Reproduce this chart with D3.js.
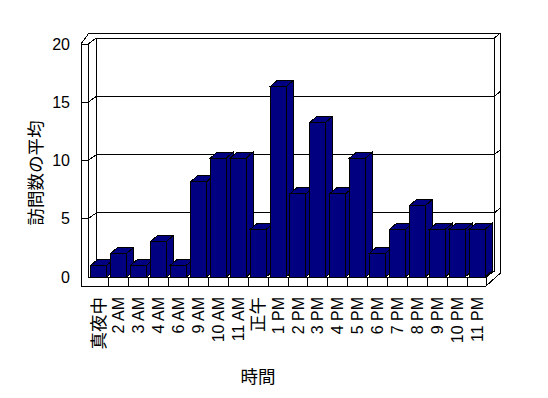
<!DOCTYPE html>
<html>
<head>
<meta charset="utf-8">
<script src="https://cdn.jsdelivr.net/npm/d3@7"></script>
<style>
  body { margin: 0; background: #fff; }
  text { font-family: "Liberation Sans", "Noto Sans CJK JP", sans-serif; fill: #000; }
  .cjk { font-family: "Noto Sans CJK JP", sans-serif; }
</style>
</head>
<body>
<svg width="548" height="398"></svg>
<script>
// data
var hours = ["真夜中", "2 AM", "3 AM", "4 AM", "6 AM", "9 AM", "10 AM", "11 AM", "正午",
             "1 PM", "2 PM", "3 PM", "4 PM", "5 PM", "6 PM", "7 PM", "8 PM", "9 PM", "10 PM", "11 PM"];
var visits = [1, 2, 1, 3, 1, 8, 10, 10, 4, 16, 7, 13, 7, 10, 2, 4, 6, 4, 4, 4];
var yTicks = [0, 5, 10, 15, 20];
var xTitle = "時間",
    yTitle = "訪問数の平均";

var svg = d3.select("svg");

// frame geometry (front plane, depth offset, wall thickness)
var front = {left: 88, right: 486, base: 277, bottom: 286, outer: 81},
    depth = {x: 8.5, y: -6},
    thick = {x: 6, y: -5},
    barDepth = {x: 7, y: -6};

var x = d3.scaleBand().domain(hours).range([89, 487]).paddingInner(0.2).paddingOuter(0.1),
    yBack = d3.scaleLinear().domain([0, 20]).range([271, 38]),
    yBar = d3.scaleLinear().domain([0, 20]).range([front.base, 39]);

var backL = front.left + depth.x,
    backR = front.right + depth.x,
    wallTop = yBack(20);

var frame = svg.append("g")
    .attr("fill", "none")
    .attr("stroke", "#000")
    .attr("stroke-width", 1)
    .attr("shape-rendering", "crispEdges");

// back wall + gridlines
frame.append("rect")
    .attr("x", backL).attr("y", wallTop)
    .attr("width", backR - backL).attr("height", yBack(0) - wallTop)
    .attr("fill", "#fff");

yTicks.slice(1, 4).forEach(function(v) {
  frame.append("line")
      .attr("x1", backL).attr("x2", backR)
      .attr("y1", yBack(v)).attr("y2", yBack(v));
  // left wall inner face
  frame.append("line")
      .attr("x1", front.left).attr("y1", yBack(v) - depth.y)
      .attr("x2", backL).attr("y2", yBack(v));
  // left wall front face
  frame.append("line")
      .attr("x1", front.outer).attr("y1", yBack(v) - depth.y)
      .attr("x2", front.left).attr("y2", yBack(v) - depth.y);
  // back wall right face
  frame.append("line")
      .attr("x1", backR).attr("y1", yBack(v))
      .attr("x2", backR + thick.x).attr("y2", yBack(v) + thick.y);
});

// outer outline of the walls
frame.append("path")
    .attr("d", d3.line()([
      [front.outer, front.bottom],
      [front.outer, wallTop - depth.y],
      [front.outer + 8, wallTop + thick.y],
      [backR + thick.x, wallTop + thick.y],
      [backR + thick.x, yBack(0) + 2],
      [front.right, front.bottom]
    ]));

// left wall top and inner edges
frame.append("path")
    .attr("d", d3.line()([
      [front.outer, wallTop - depth.y],
      [front.left, wallTop - depth.y],
      [backL, wallTop]
    ]));
frame.append("line")
    .attr("x1", front.left).attr("y1", wallTop - depth.y)
    .attr("x2", front.left).attr("y2", front.base);
frame.append("line")
    .attr("x1", backR).attr("y1", wallTop)
    .attr("x2", backR + thick.x).attr("y2", wallTop + thick.y);

// floor front face
frame.append("line")
    .attr("x1", front.left).attr("x2", front.right)
    .attr("y1", front.base).attr("y2", front.base);
frame.append("line")
    .attr("x1", front.outer).attr("x2", front.right)
    .attr("y1", front.bottom).attr("y2", front.bottom);
frame.append("line")
    .attr("x1", front.right).attr("x2", front.right)
    .attr("y1", front.base).attr("y2", front.bottom);
frame.append("line")
    .attr("x1", front.right).attr("y1", front.base)
    .attr("x2", backR).attr("y2", yBack(0));

// category ticks on the floor edge
hours.slice(1).forEach(function(h) {
  var bx = x(h) - x.step() * x.paddingInner() / 2;
  frame.append("line")
      .attr("x1", bx).attr("x2", bx)
      .attr("y1", front.base).attr("y2", front.bottom);
});

// bars
var bw = x.bandwidth();
var bars = svg.append("g")
    .attr("fill", "#000080")
    .attr("stroke", "#000")
    .attr("shape-rendering", "crispEdges");

hours.forEach(function(h, i) {
  var bx = x(h),
      yt = yBar(visits[i]),
      g = bars.append("g");
  g.append("path")
      .attr("d", d3.line()([
        [bx + bw, yt], [bx + bw + barDepth.x, yt + barDepth.y],
        [bx + bw + barDepth.x, front.base + barDepth.y], [bx + bw, front.base]
      ]) + "Z");
  g.append("path")
      .attr("d", d3.line()([
        [bx, yt], [bx + barDepth.x, yt + barDepth.y],
        [bx + bw + barDepth.x, yt + barDepth.y], [bx + bw, yt]
      ]) + "Z");
  g.append("rect")
      .attr("x", bx).attr("y", yt)
      .attr("width", bw).attr("height", front.base - yt);
});

// y tick labels
svg.append("g").selectAll("text")
  .data(yTicks)
  .enter().append("text")
    .attr("x", 70)
    .attr("y", function(d) { return yBack(d) - depth.y; })
    .attr("dy", "0.35em")
    .attr("text-anchor", "end")
    .style("font-size", "16px")
    .text(function(d) { return d; });

// x tick labels, rotated
svg.append("g").selectAll("text")
  .data(hours)
  .enter().append("text")
    .attr("transform", function(d) {
      return "translate(" + (x(d) + bw / 2) + ",297) rotate(-90)";
    })
    .attr("dy", "0.35em")
    .attr("text-anchor", "end")
    .attr("class", function(d) { return /[^\x00-\x7f]/.test(d) ? "cjk" : null; })
    .style("font-size", function(d) { return /[^\x00-\x7f]/.test(d) ? "17.5px" : "16px"; })
    .text(function(d) { return d; });

// axis titles
svg.append("text")
    .attr("class", "cjk")
    .attr("x", 258)
    .attr("y", 383)
    .attr("text-anchor", "middle")
    .style("font-size", "17.5px")
    .text(xTitle);

svg.append("text")
    .attr("class", "cjk")
    .attr("transform", "translate(36,173) rotate(-90)")
    .attr("dy", "0.35em")
    .attr("text-anchor", "middle")
    .style("font-size", "17.5px")
    .text(yTitle);
</script>
</body>
</html>
